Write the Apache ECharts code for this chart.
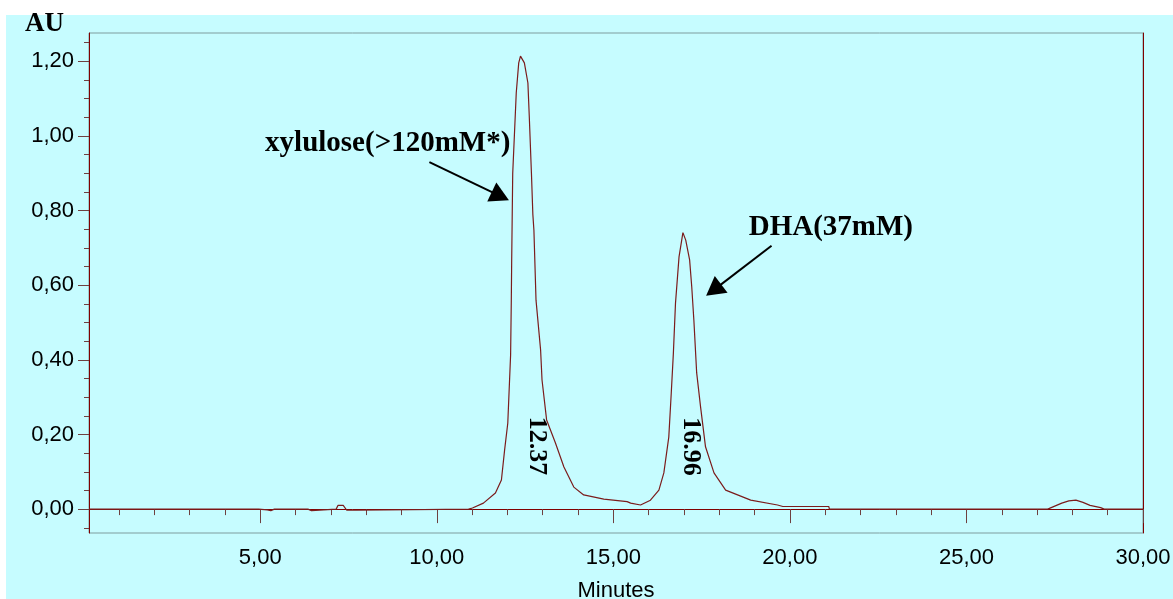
<html>
    <head>
        <meta charset="utf-8">
        <script src="https://cdn.jsdelivr.net/npm/echarts@6.0.0/dist/echarts.min.js"></script>
    </head>
    <body>
        <style>
            html, body {
                width: 100%;
                height: 100%;
                margin: 0;
                background: #fff;
            }
            #paper {
                position: absolute;
                left: 6px;
                top: 15px;
                width: 1167px;
                height: 584px;
                background: #c6fcff;
            }
            #main {
                position: absolute;
                left: 0;
                top: 0;
                width: 1173px;
                height: 599px;
            }
        </style>
        <div id="paper"></div>
        <div id="main"></div>

        <script>
            // chromatogram trace
            var minutes = [0.15, 4.95, 5.0, 5.2, 5.3, 5.4, 6.2, 6.25, 6.35, 6.45, 6.5, 7.15, 7.2, 7.35, 7.45, 7.7, 7.75,
                10.9, 11.01, 11.32, 11.66, 11.83, 11.92, 12.01, 12.09, 12.11, 12.12, 12.15, 12.25, 12.32, 12.37, 12.42,
                12.48, 12.58, 12.62, 12.68, 12.72, 12.75, 12.81, 12.94, 12.98, 13.11, 13.36, 13.60, 13.88, 14.16, 14.73,
                15.39, 15.49, 15.77, 16.05, 16.29, 16.43, 16.57, 16.64, 16.70, 16.76, 16.86, 16.97, 17.05, 17.16, 17.22,
                17.28, 17.36, 17.47, 17.61, 17.85, 18.18, 18.89, 19.65, 19.8, 21.1, 21.12, 27.3, 27.5, 27.7, 27.9, 28.1,
                28.3, 28.5, 28.8, 28.9, 30.0];
            var absorbance = [0, 0, -0.004, -0.002, -0.004, 0, 0, -0.004, 0, -0.004, 0, 0, 0.01, 0.01, -0.003, -0.003, 0,
                0, 0.003, 0.016, 0.043, 0.078, 0.158, 0.23, 0.413, 0.56, 0.66, 0.90, 1.115, 1.196, 1.214, 1.212,
                1.196, 1.142, 1.05, 0.90, 0.79, 0.748, 0.56, 0.426, 0.346, 0.239, 0.177, 0.113, 0.059, 0.038, 0.027,
                0.02, 0.016, 0.011, 0.024, 0.051, 0.097, 0.193, 0.311, 0.418, 0.552, 0.676, 0.741, 0.721, 0.668, 0.596,
                0.507, 0.365, 0.274, 0.167, 0.097, 0.051, 0.024, 0.011, 0.007, 0.007, 0, 0, 0.008, 0.016, 0.022, 0.024,
                0.018, 0.01, 0.004, 0, 0];

            var peakNames = ['xylulose(>120mM*)', 'DHA(37mM)'];
            var peakTimes = [12.37, 16.96];

            var xMajor = [5, 10, 15, 20, 25, 30];
            var xMinor = [1, 2, 3, 4, 6, 7, 8, 9, 11, 12, 13, 14, 16, 17, 18, 19, 21, 22, 23, 24, 26, 27, 28, 29];
            var yMajor = [0, 0.2, 0.4, 0.6, 0.8, 1.0, 1.2];
            var yMinor = [-0.05, 0.05, 0.1, 0.15, 0.25, 0.3, 0.35, 0.45, 0.5, 0.55, 0.65, 0.7, 0.75,
                0.85, 0.9, 0.95, 1.05, 1.1, 1.15, 1.25];

            var X_MIN = 0.15, X_MAX = 30;
            var Y_MIN = -0.064, Y_MAX = 1.276;

            var axisRed = '#800000';
            var tickColor = '#6e4040';

            function comma(v) {
                return v.toFixed(2).replace('.', ',');
            }

            var data = minutes.map(function (t, i) {
                return [t, absorbance[i]];
            });

            var chart = echarts.init(document.getElementById('main'));

            chart.setOption({
                animation: false,
                title: {
                    text: 'AU',
                    left: 25,
                    top: 11,
                    padding: 0,
                    textStyle: {
                        fontFamily: 'Liberation Serif',
                        fontWeight: 'bold',
                        fontSize: 27,
                        color: '#000'
                    }
                },
                grid: {
                    left: 89,
                    top: 33,
                    right: 30,
                    bottom: 66,
                    outerBoundsMode: 'none',
                    show: true,
                    borderColor: '#7f9c9e',
                    borderWidth: 1,
                    backgroundColor: 'transparent'
                },
                xAxis: [{
                    type: 'value',
                    position: 'bottom',
                    min: X_MIN,
                    max: X_MAX,
                    name: 'Minutes',
                    nameLocation: 'middle',
                    nameGap: 47,
                    nameTextStyle: {
                        fontFamily: 'Liberation Sans',
                        fontSize: 22,
                        color: '#000'
                    },
                    axisLine: { lineStyle: { color: axisRed, width: 1 } },
                    axisTick: {
                        show: true,
                        customValues: xMajor,
                        length: 14,
                        lineStyle: { color: tickColor }
                    },
                    axisLabel: {
                        customValues: xMajor,
                        margin: 14,
                        formatter: comma,
                        fontFamily: 'Liberation Sans',
                        fontSize: 22,
                        color: '#000'
                    },
                    splitLine: { show: false }
                }, {
                    type: 'value',
                    position: 'bottom',
                    min: X_MIN,
                    max: X_MAX,
                    axisLine: { show: false },
                    axisTick: {
                        show: true,
                        customValues: xMinor,
                        length: 6,
                        lineStyle: { color: tickColor }
                    },
                    axisLabel: { show: false },
                    splitLine: { show: false }
                }],
                yAxis: [{
                    type: 'value',
                    position: 'left',
                    min: Y_MIN,
                    max: Y_MAX,
                    axisLine: { show: true, lineStyle: { color: axisRed, width: 1 } },
                    axisTick: {
                        show: true,
                        customValues: yMajor,
                        length: 11,
                        lineStyle: { color: tickColor }
                    },
                    axisLabel: {
                        customValues: yMajor,
                        margin: 15,
                        formatter: comma,
                        fontFamily: 'Liberation Sans',
                        fontSize: 22,
                        color: '#000'
                    },
                    splitLine: { show: false }
                }, {
                    type: 'value',
                    position: 'left',
                    min: Y_MIN,
                    max: Y_MAX,
                    axisLine: { show: false },
                    axisTick: {
                        show: true,
                        customValues: yMinor,
                        length: 5,
                        lineStyle: { color: tickColor }
                    },
                    axisLabel: { show: false },
                    splitLine: { show: false }
                }, {
                    type: 'value',
                    position: 'right',
                    min: Y_MIN,
                    max: Y_MAX,
                    axisLine: { show: true, lineStyle: { color: axisRed, width: 1 } },
                    axisTick: { show: false },
                    axisLabel: { show: false },
                    splitLine: { show: false }
                }],
                series: [{
                    type: 'line',
                    data: data,
                    showSymbol: false,
                    smooth: false,
                    silent: true,
                    lineStyle: { color: '#7b1c1c', width: 1.2 },
                    markLine: {
                        silent: true,
                        symbol: ['none', 'triangle'],
                        symbolSize: [21, 19],
                        label: { show: false },
                        lineStyle: { color: '#000', width: 2, type: 'solid' },
                        data: [
                            [{ coord: [9.79, 0.930] }, { coord: [11.80, 0.839] }],
                            [{ coord: [19.48, 0.706] }, { coord: [17.84, 0.587] }]
                        ]
                    },
                    markPoint: {
                        silent: true,
                        symbol: 'circle',
                        symbolSize: 0,
                        label: {
                            show: true,
                            color: '#000',
                            fontFamily: 'Liberation Serif',
                            fontWeight: 'bold',
                            fontSize: 29,
                            align: 'center',
                            verticalAlign: 'middle'
                        },
                        data: [
                            { coord: [8.61, 0.980], label: { formatter: peakNames[0] } },
                            { coord: [21.16, 0.756], label: { formatter: peakNames[1] } },
                            { coord: [peakTimes[0] + 0.46, 0.169], label: { formatter: peakTimes[0].toFixed(2), rotate: -90, fontSize: 26 } },
                            { coord: [peakTimes[1] + 0.23, 0.168], label: { formatter: peakTimes[1].toFixed(2), rotate: -90, fontSize: 26 } }
                        ]
                    }
                }]
            });
        </script>
    </body>
</html>
